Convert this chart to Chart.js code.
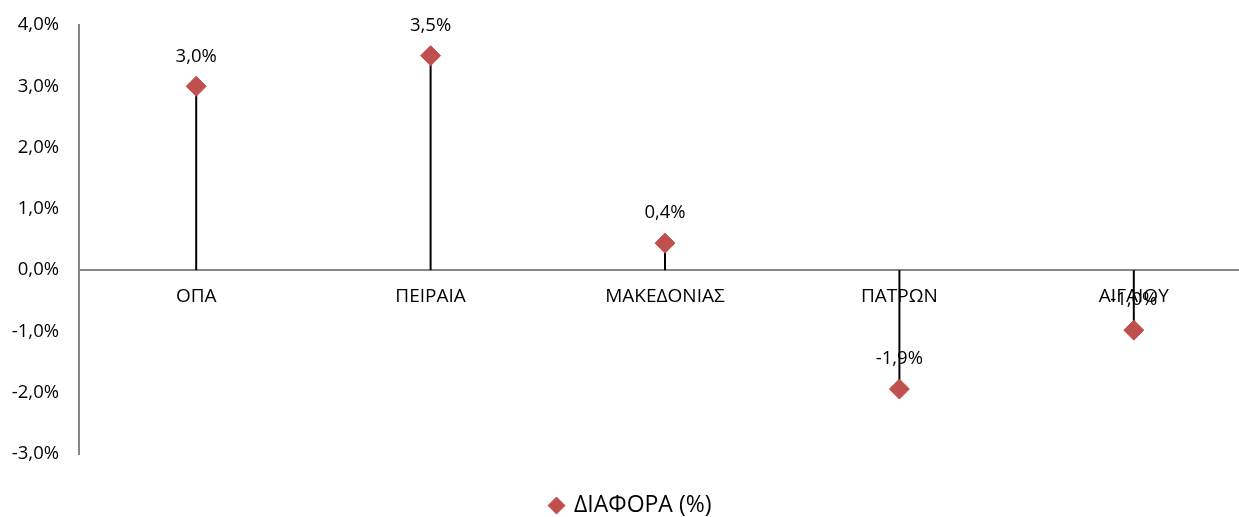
<!DOCTYPE html>
<html lang="el">
<head>
  <meta charset="UTF-8">
  <title>ΔΙΑΦΟΡΑ (%)</title>
  <script src="https://cdn.jsdelivr.net/npm/chart.js"></script>
  <style>
    html, body {
      margin: 0;
      padding: 0;
      background: #ffffff;
      overflow: hidden;
    }
    #wrap {
      width: 1262px;
      height: 527px;
    }
  </style>
</head>
<body>
  <div id="wrap">
    <canvas id="diafora" width="1262" height="527"></canvas>
  </div>

  <script>
    const categories = ['ΟΠΑ', 'ΠΕΙΡΑΙΑ', 'ΜΑΚΕΔΟΝΙΑΣ', 'ΠΑΤΡΩΝ', 'ΑΙΓΑΙΟΥ'];
    const diafora = [3.0, 3.5, 0.44, -1.94, -0.98];
    const yTicks = [4, 3, 2, 1, 0, -1, -2, -3];

    const fontFamily = "'Open Sans', 'Noto Sans', sans-serif";
    const red = '#C0504D';
    const axisGrey = '#868686';

    function fmt(v) {
      return v.toFixed(1).replace('.', ',') + '%';
    }

    // κάθετες γραμμές από το σημείο ως το μηδέν
    const dropLines = {
      id: 'dropLines',
      beforeDatasetsDraw(chart) {
        const ctx = chart.ctx;
        const y0 = chart.scales.y.getPixelForValue(0);
        ctx.save();
        ctx.strokeStyle = '#000000';
        ctx.lineWidth = 2;
        chart.getDatasetMeta(0).data.forEach(pt => {
          ctx.beginPath();
          ctx.moveTo(pt.x, y0);
          ctx.lineTo(pt.x, pt.y);
          ctx.stroke();
        });
        ctx.restore();
      }
    };

    const valueLabels = {
      id: 'valueLabels',
      afterDatasetsDraw(chart) {
        const ctx = chart.ctx;
        ctx.save();
        ctx.font = '18.5px ' + fontFamily;
        ctx.fillStyle = '#000000';
        ctx.textAlign = 'center';
        ctx.textBaseline = 'middle';
        chart.getDatasetMeta(0).data.forEach((pt, i) => {
          ctx.fillText(fmt(diafora[i]), pt.x, pt.y - 30);
        });
        ctx.restore();
      }
    };

    new Chart(document.getElementById('diafora'), {
      type: 'line',
      data: {
        labels: categories,
        datasets: [{
          label: 'ΔΙΑΦΟΡΑ (%)',
          data: diafora,
          showLine: false,
          pointStyle: 'rectRot',
          pointRadius: 10,
          pointHoverRadius: 10,
          pointBackgroundColor: red,
          pointBorderColor: red,
          backgroundColor: red,
          borderColor: red
        }]
      },
      options: {
        responsive: false,
        animation: false,
        layout: { padding: { top: 25, bottom: 0, right: 0, left: 0 } },
        plugins: {
          tooltip: { enabled: false },
          legend: {
            position: 'bottom',
            labels: {
              usePointStyle: true,
              pointStyle: 'rectRot',
              boxWidth: 12,
              boxHeight: 12,
              padding: 40,
              color: '#000000',
              font: { family: fontFamily, size: 23 }
            }
          }
        },
        scales: {
          x: {
            type: 'category',
            position: { y: 0 },
            offset: true,
            grid: { color: 'transparent', drawTicks: false },
            border: { display: true, color: axisGrey, width: 2 },
            ticks: {
              color: '#000000',
              padding: 15,
              font: { family: fontFamily, size: 19 }
            }
          },
          y: {
            min: -3,
            max: 4,
            afterFit(scale) {
              scale.width = 79;
              scale.paddingTop = 0;
              scale.paddingBottom = 0;
            },
            afterBuildTicks(scale) {
              scale.ticks = yTicks.map(v => ({ value: v }));
            },
            grid: { display: false, drawTicks: false },
            border: { display: true, color: axisGrey, width: 2 },
            ticks: {
              color: '#000000',
              padding: 20,
              font: { family: fontFamily, size: 18.5 },
              callback: v => fmt(v)
            }
          }
        }
      },
      plugins: [dropLines, valueLabels]
    });
  </script>
</body>
</html>
